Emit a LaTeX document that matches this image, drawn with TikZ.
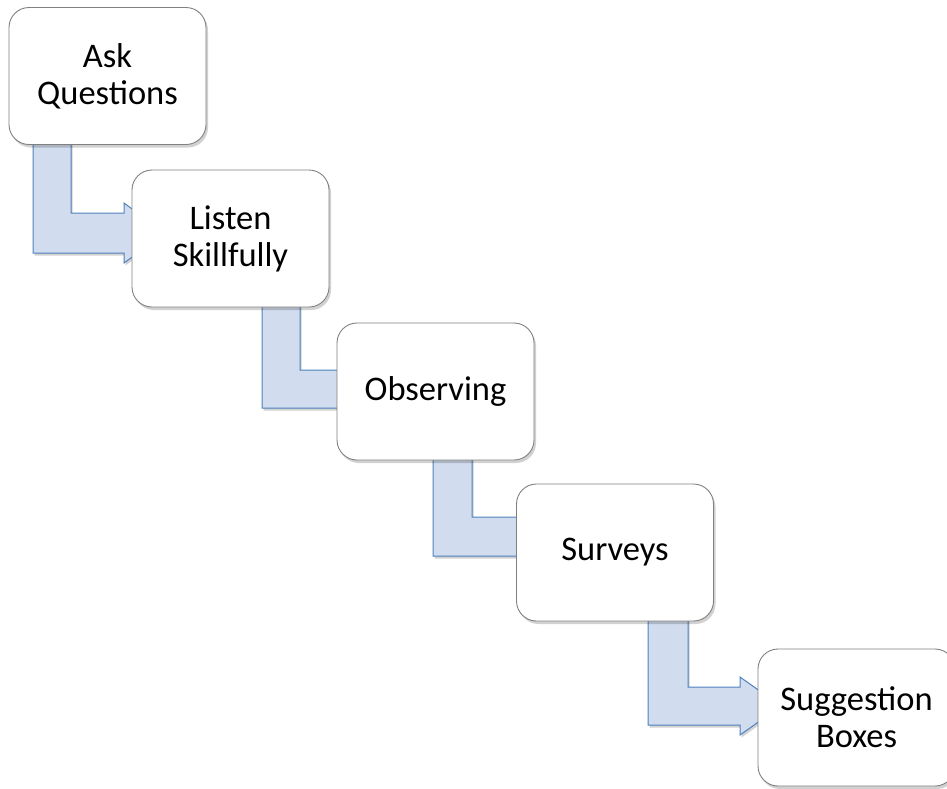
\documentclass[tikz,border=0pt]{standalone}
\usepackage{fontspec}
\setmainfont{Carlito}
\usetikzlibrary{shadows}
\definecolor{arrfill}{RGB}{209,220,238}
\definecolor{arrline}{RGB}{79,129,189}
\definecolor{boxline}{RGB}{128,128,128}
\tikzset{
  stepbox/.style={draw=boxline, line width=0.9pt, fill=white, rounded corners=20pt,
    minimum width=197pt, minimum height=137pt, align=center, inner sep=0pt,
    font=\fontsize{34.5}{37}\selectfont,
    drop shadow={shadow xshift=2pt, shadow yshift=-3pt, opacity=0.18, fill=black}},
  bentarrow/.style={draw=arrline, line width=1pt, fill=arrfill, line join=miter,
    drop shadow={shadow xshift=1.5pt, shadow yshift=-2.5pt, opacity=0.18, fill=black}}
}
% #1 x left, #2 x right, #3 top, #4 inner y, #5 outer y, #6 head base x, #7 tip x
\newcommand\bentarr[7]{%
  \path[bentarrow] (#1,#3) -- (#1,#5) -- (#6,#5) -- (#6,#5+10) -- (#7,{(#4+#5)/2})
    -- (#6,#4-10) -- (#6,#4) -- (#2,#4) -- (#2,#3) -- cycle;}
\begin{document}
\begin{tikzpicture}[x=1pt,y=-1pt]
\useasboundingbox (0,0) rectangle (947,788);
\clip (0,0) rectangle (947,788);
% arrows
\bentarr{33}{71}{135}{213}{253}{124}{165}
\bentarr{262}{300}{297}{370}{408}{345}{386}
\bentarr{433}{472}{450}{517}{556}{525}{566}
\bentarr{648}{688}{611}{687}{725}{740}{781}
% boxes
\node[stepbox] (b1) at (107.5,76) {Ask\\Questions};
\node[stepbox] (b2) at (230.5,238.5) {Listen\\Skillfully};
\node[stepbox] (b3) at (435.5,391.5) {Observing};
\node[stepbox] (b4) at (615,552.5) {Surveys};
\node[stepbox] (b5) at (856.5,717.5) {Suggestion\\Boxes};
\end{tikzpicture}
\end{document}
